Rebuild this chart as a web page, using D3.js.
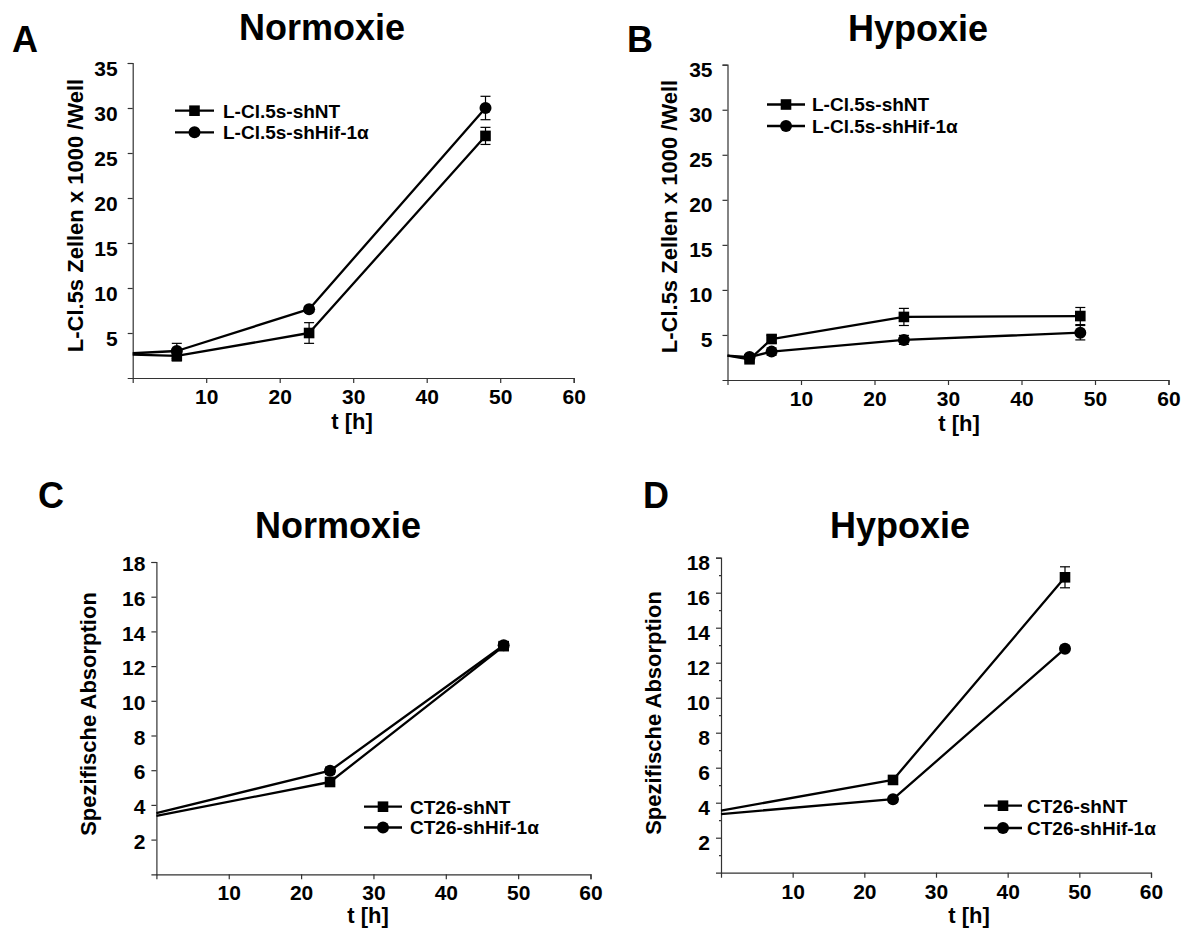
<!DOCTYPE html>
<html>
<head>
<meta charset="utf-8">
<script src="https://cdn.jsdelivr.net/npm/d3@7/dist/d3.min.js"></script>
<style>
  body { margin: 0; background: #fff; }
  svg { display: block; font-family: "Liberation Sans", Arial, sans-serif; font-weight: bold; }
</style>
</head>
<body>
<svg id="chart" width="1190" height="936"></svg>
<script>
// ---------- data ----------
const xTicks = [10, 20, 30, 40, 50, 60];
const yTicksCells = [5, 10, 15, 20, 25, 30, 35];
const yTicksAbs = [2, 4, 6, 8, 10, 12, 14, 16, 18];
const yMinorAbs = [1, 3, 5, 7, 9, 11, 13, 15, 17];

const panelLetters = ["A", "B", "C", "D"];
const panelTitles = ["Normoxie", "Hypoxie", "Normoxie", "Hypoxie"];
const yLabels = ["L-Cl.5s Zellen x 1000 /Well", "L-Cl.5s Zellen x 1000 /Well",
                 "Spezifische Absorption", "Spezifische Absorption"];
const xLabel = "t [h]";
const legendA = ["L-Cl.5s-shNT", "L-Cl.5s-shHif-1α"];
const legendC = ["CT26-shNT", "CT26-shHif-1α"];

const timeA = [0, 6, 24, 48];
const aNT = [2.6, 2.45, 5.0, 26.9];
const aNTerr = [0, 0.55, 1.15, 0.95];
const aHif = [2.75, 3.0, 7.65, 30.0];
const aHifErr = [0, 0.85, 0.3, 1.3];

const timeB = [0, 3, 6, 24, 48];
const bNT = [2.7, 2.3, 4.55, 7.0, 7.1];
const bNTerr = [0, 0.3, 0.4, 0.95, 0.95];
const bHif = [2.7, 2.55, 3.15, 4.45, 5.25];
const bHifErr = [0, 0.3, 0.4, 0.5, 0.8];

const timeC = [0, 24, 48];
const cNT = [3.37, 5.32, 13.15];
const cNTerr = [0, 0.15, 0.2];
const cHif = [3.53, 5.97, 13.2];
const cHifErr = [0, 0.2, 0.2];

const timeD = [0, 24, 48];
const dNT = [3.55, 5.3, 16.88];
const dNTerr = [0, 0.2, 0.6];
const dHif = [3.35, 4.2, 12.8];
const dHifErr = [0, 0.15, 0.15];

// ---------- layout ----------
const layout = [
  { x0: 132.7, x1: 573.7, y0: 378, y1: 63, yMax: 35, yTicks: yTicksCells, yMinor: [], tickDy: 6, tickGap: 10,
    letter: [12, 51.7], title: [322, 39.5], yLab: [83, 215.5], xLab: [352, 429],
    leg: { l1: 175, l2: 214, tx: 223, r1: 110.7, r2: 132.3, names: legendA },
    t: timeA, nt: aNT, ntE: aNTerr, hif: aHif, hifE: aHifErr },
  { x0: 727.5, x1: 1168.5, y0: 380, y1: 64.7, yMax: 35, yTicks: yTicksCells, yMinor: [], tickDy: 5, tickGap: 10,
    letter: [627, 51.7], title: [918, 41], yLab: [677, 216.5], xLab: [959, 431],
    leg: { l1: 767, l2: 805, tx: 812, r1: 104.5, r2: 126, names: legendA },
    t: timeB, nt: bNT, ntE: bNTerr, hif: bHif, hifE: bHifErr },
  { x0: 156.4, x1: 590.5, y0: 874.3, y1: 562, yMax: 18, yTicks: yTicksAbs, yMinor: [], tickDy: 2, tickGap: 6,
    letter: [38, 508.3], title: [338, 538], yLab: [96, 714], xLab: [368, 923],
    leg: { l1: 364, l2: 402, tx: 410, r1: 806.7, r2: 827.5, names: legendC },
    t: timeC, nt: cNT, ntE: cNTerr, hif: cHif, hifE: cHifErr },
  { x0: 721, x1: 1151, y0: 872.7, y1: 557.7, yMax: 18, yTicks: yTicksAbs, yMinor: yMinorAbs, tickDy: 5, tickGap: 6,
    letter: [643, 508], title: [900, 538], yLab: [661, 713], xLab: [969, 923],
    leg: { l1: 984, l2: 1022, tx: 1027, r1: 805.7, r2: 828, names: legendC },
    t: timeD, nt: dNT, ntE: dNTerr, hif: dHif, hifE: dHifErr }
];

const svg = d3.select("#chart");

layout.forEach((p, i) => {
  const g = svg.append("g");
  const x = d3.scaleLinear().domain([0, 60]).range([p.x0, p.x1]);
  const y = d3.scaleLinear().domain([0, p.yMax]).range([p.y0, p.y1]);

  // panel letter & title
  g.append("text").attr("x", p.letter[0]).attr("y", p.letter[1])
    .attr("font-size", 36).text(panelLetters[i]);
  g.append("text").attr("x", p.title[0]).attr("y", p.title[1])
    .attr("text-anchor", "middle").attr("font-size", 36).text(panelTitles[i]);

  // axes
  const xAxis = d3.axisBottom(x).tickValues(xTicks).tickSize(5).tickPadding(6)
    .tickFormat(d3.format("d"));
  const gx = g.append("g").attr("transform", `translate(0,${p.y0})`).call(xAxis);
  const yAxis = d3.axisLeft(y).tickValues(p.yTicks).tickSize(5).tickPadding(p.tickGap)
    .tickFormat(d3.format("d"));
  const gy = g.append("g").attr("transform", `translate(${p.x0},0)`).call(yAxis);
  if (p.yMinor.length) {
    const yMin = d3.axisLeft(y).tickValues(p.yMinor).tickSize(2).tickFormat("");
    g.append("g").attr("transform", `translate(${p.x0},0)`).call(yMin)
      .call(s => s.select(".domain").remove());
  }
  g.selectAll(".domain").attr("stroke", "#333").attr("stroke-width", 1.2);
  g.selectAll(".tick line").attr("stroke", "#333").attr("stroke-width", 1.2);
  gx.selectAll(".tick text").attr("font-size", 21).attr("fill", "#000")
    .attr("font-family", "Liberation Sans, Arial, sans-serif").attr("font-weight", "bold");
  gy.selectAll(".tick text").attr("font-size", 21).attr("fill", "#000")
    .attr("font-family", "Liberation Sans, Arial, sans-serif").attr("font-weight", "bold")
    .attr("dy", (0.32 + p.tickDy / 21) + "em");

  // axis titles
  g.append("text").attr("transform", `translate(${p.yLab[0]},${p.yLab[1]}) rotate(-90)`)
    .attr("text-anchor", "middle").attr("font-size", 22).text(yLabels[i]);
  g.append("text").attr("x", p.xLab[0]).attr("y", p.xLab[1])
    .attr("text-anchor", "middle").attr("font-size", 22).text(xLabel);

  // series
  const series = [
    { vals: p.nt, err: p.ntE, shape: "square" },
    { vals: p.hif, err: p.hifE, shape: "circle" }
  ];
  const line = d3.line().x(d => x(d.t)).y(d => y(d.v));
  series.forEach(s => {
    const pts = p.t.map((t, k) => ({ t, v: s.vals[k], e: s.err[k] }));
    g.append("path").datum(pts).attr("d", line)
      .attr("fill", "none").attr("stroke", "#000").attr("stroke-width", 2.3)
      .attr("stroke-linejoin", "round");
    const measured = pts.filter(d => d.t > 0);
    // error bars
    const eb = g.append("g").attr("stroke", "#000").attr("stroke-width", 1.2);
    measured.filter(d => d.e > 0).forEach(d => {
      const cx = x(d.t);
      eb.append("line").attr("x1", cx).attr("x2", cx).attr("y1", y(d.v - d.e)).attr("y2", y(d.v + d.e));
      eb.append("line").attr("x1", cx - 5).attr("x2", cx + 5).attr("y1", y(d.v + d.e)).attr("y2", y(d.v + d.e));
      eb.append("line").attr("x1", cx - 5).attr("x2", cx + 5).attr("y1", y(d.v - d.e)).attr("y2", y(d.v - d.e));
    });
    if (s.shape === "square") {
      g.selectAll(null).data(measured).enter().append("rect")
        .attr("x", d => x(d.t) - 5.3).attr("y", d => y(d.v) - 5.3)
        .attr("width", 10.6).attr("height", 10.6).attr("fill", "#000");
    } else {
      g.selectAll(null).data(measured).enter().append("circle")
        .attr("cx", d => x(d.t)).attr("cy", d => y(d.v)).attr("r", 6).attr("fill", "#000");
    }
  });

  // legend
  const L = p.leg;
  [L.r1, L.r2].forEach((ry, k) => {
    g.append("line").attr("x1", L.l1).attr("x2", L.l2).attr("y1", ry).attr("y2", ry)
      .attr("stroke", "#000").attr("stroke-width", 2.3);
    const mx = (L.l1 + L.l2) / 2;
    if (k === 0) {
      g.append("rect").attr("x", mx - 5.3).attr("y", ry - 5.3).attr("width", 10.6).attr("height", 10.6).attr("fill", "#000");
    } else {
      g.append("circle").attr("cx", mx).attr("cy", ry).attr("r", 6).attr("fill", "#000");
    }
    g.append("text").attr("x", L.tx).attr("y", ry).attr("dy", "0.36em")
      .attr("font-size", 19).text(L.names[k]);
  });
});
</script>
</body>
</html>
